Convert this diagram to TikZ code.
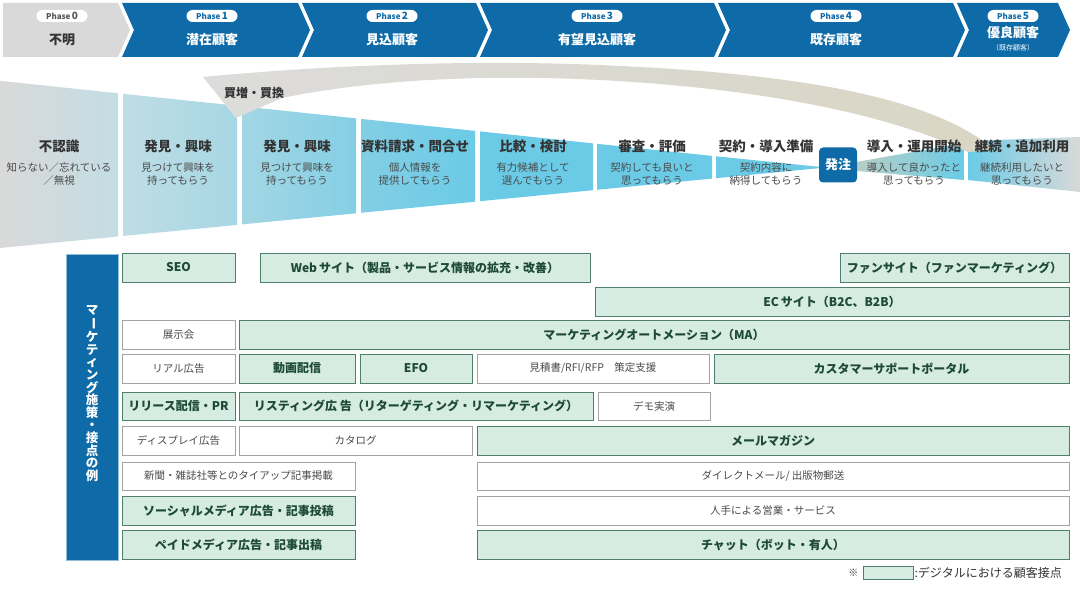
\documentclass[tikz,border=0pt]{standalone}
\usepackage{fontspec}
\setmainfont{Noto Sans CJK JP}
\usetikzlibrary{positioning}

\definecolor{phaseblue}{HTML}{0E6BA8}
\definecolor{phasegray}{HTML}{D9D9D9}
\definecolor{badgegray}{HTML}{555555}
\definecolor{mint}{HTML}{D6EBE1}
\definecolor{mintline}{HTML}{4F7F68}
\definecolor{minttext}{HTML}{1D4A36}
\definecolor{cellline}{HTML}{A3A3A3}
\definecolor{inktext}{HTML}{333333}
\definecolor{subtext}{HTML}{4A4A4A}
\definecolor{funcyan}{HTML}{6BCBE6}
\definecolor{fungray}{HTML}{D9D9D9}
\definecolor{funA}{HTML}{C3DDE4}
\definecolor{funB}{HTML}{BFDDE5}
\definecolor{funC}{HTML}{A6D7E4}
\definecolor{funD}{HTML}{A3D6E4}
\definecolor{funE}{HTML}{84CFE5}
\definecolor{funF}{HTML}{82CEE5}
\definecolor{funG}{HTML}{BFCFC2}
\definecolor{bandgray}{HTML}{DCDCDC}
\definecolor{bandbeige}{HTML}{D9D6C4}

\tikzset{
  digital/.style={draw=mintline, fill=mint, line width=0.9pt, text=minttext,
    font=\fontsize{12}{12}\selectfont\bfseries, inner sep=0pt},
  plain/.style={draw=cellline, fill=white, line width=0.9pt, text=subtext,
    font=\fontsize{10.5}{10.5}\selectfont, inner sep=0pt},
  stagetitle/.style={text=inktext, font=\fontsize{13.5}{14}\selectfont\bfseries, inner sep=0pt},
  stagenote/.style={text=subtext, font=\fontsize{10.5}{13.5}\selectfont, align=center, inner sep=0pt},
  badge/.style={fill=white, rounded corners=6pt, minimum width=51pt, minimum height=12pt,
    inner sep=0pt, text=phaseblue, font=\fontsize{8}{8}\selectfont\bfseries},
  phasename/.style={text=white, font=\fontsize{13}{13}\selectfont\bfseries, inner sep=0pt},
}

% one table cell: style, name, x1, x2, y1, y2, text
\newcommand\cell[7]{%
  \node[#1, minimum width={#4pt-#3pt}, minimum height={#6pt-#5pt}] (#2)
    at ({(#3+#4)/2},{(#5+#6)/2}) {#7};}
\newcommand\phasenum[1]{{\fontsize{10}{10}\selectfont #1}}
\newcommand\vbar{\rotatebox[origin=c]{-90}{ー}}

\begin{document}
\begin{tikzpicture}[x=1pt,y=-1pt]
\useasboundingbox (0,0) rectangle (1080,591);

% phase bar
\fill[phasegray] (3,3) -- (118,3) -- (130,30) -- (118,57) -- (3,57) -- cycle;
\foreach \l/\r in {122/298,302/476,480/714,718/953,957/1058}
  \fill[phaseblue] (\l,3) -- (\r,3) -- (\r+12,30) -- (\r,57) -- (\l,57) -- (\l+12,30) -- cycle;

\node[badge, text=badgegray] (p0) at (62,16) {Phase\,\phasenum{0}};
\node[badge] (p1) at (212,16) {Phase\,\phasenum{1}};
\node[badge] (p2) at (392,16) {Phase\,\phasenum{2}};
\node[badge] (p3) at (597,16) {Phase\,\phasenum{3}};
\node[badge] (p4) at (836,16) {Phase\,\phasenum{4}};
\node[badge] (p5) at (1013,16) {Phase\,\phasenum{5}};
\node[phasename, text=inktext] (p0name) at (62,40) {不明};
\node[phasename] (p1name) at (212,40) {潜在顧客};
\node[phasename] (p2name) at (392,40) {見込顧客};
\node[phasename] (p3name) at (597,40) {有望見込顧客};
\node[phasename] (p4name) at (836,40) {既存顧客};
\node[phasename] (p5name) at (1013,33) {優良顧客};
\node[text=white, font=\fontsize{7}{7}\selectfont, inner sep=0pt] (p5note) at (1013,47.5) {（既存顧客）};

% funnel
\shade[left color=fungray, right color=funA] (0,80.8) -- (118,93.3) -- (118,236.5) -- (0,248) -- cycle;
\shade[left color=funB, right color=funC] (123,93.8) -- (237,105.8) -- (237,224.9) -- (123,236) -- cycle;
\shade[left color=funD, right color=funE] (242,106.3) -- (356,118.4) -- (356,213.3) -- (242,224.4) -- cycle;
\shade[left color=funF, right color=funcyan] (361,118.9) -- (475,130.9) -- (475,201.7) -- (361,212.8) -- cycle;
\fill[funcyan] (480,131.4) -- (593,143.4) -- (593,190.2) -- (480,201.2) -- cycle;
\fill[funcyan] (597,143.8) -- (712,155.9) -- (712,178.6) -- (597,189.8) -- cycle;
\fill[funcyan] (716,156.3) -- (826,167.5) -- (716,178.2) -- cycle;
\shade[left color=funG, right color=funcyan] (845,164) -- (964,143) -- (964,180) -- (845,170) -- cycle;
\shade[left color=funcyan, right color=fungray] (968,141) -- (1080,137) -- (1080,192) -- (968,180) -- cycle;

% repeat purchase band
\shade[left color=bandgray, right color=bandbeige]
  (203,77) .. controls (340,64) and (480,60) .. (600,65)
  .. controls (790,73) and (930,95) .. (995,150) -- (968,152)
  .. controls (905,122) and (790,90) .. (600,80)
  .. controls (480,74) and (370,80) .. (282,98) -- (236,118) -- cycle;
\node[stagetitle, font=\fontsize{12}{12}\selectfont\bfseries] (rebuy) at (254,93) {買増・買換};

\node[fill=phaseblue, rounded corners=4pt, minimum width=38pt, minimum height=35pt, inner sep=0pt,
  text=white, font=\fontsize{13}{13}\selectfont\bfseries] (order) at (838,165) {発注};

% stages
\node[stagetitle] (s1) at (59,146) {不認識};
\node[stagetitle] (s2) at (178,146) {発見・興味};
\node[stagetitle] (s3) at (297,146) {発見・興味};
\node[stagetitle] (s4) at (415,146) {資料請求・問合せ};
\node[stagetitle] (s5) at (533,146) {比較・検討};
\node[stagetitle] (s6) at (652,146) {審査・評価};
\node[stagetitle] (s7) at (766,146) {契約・導入準備};
\node[stagetitle] (s8) at (914,146) {導入・運用開始};
\node[stagetitle] (s9) at (1022,146) {継続・追加利用};
\node[stagenote] (s1note) at (59,174) {知らない／忘れている\\／無視};
\node[stagenote] (s2note) at (178,174) {見つけて興味を\\持ってもらう};
\node[stagenote] (s3note) at (297,174) {見つけて興味を\\持ってもらう};
\node[stagenote] (s4note) at (415,174) {個人情報を\\提供してもらう};
\node[stagenote] (s5note) at (533,174) {有力候補として\\選んでもらう};
\node[stagenote] (s6note) at (652,174) {契約しても良いと\\思ってもらう};
\node[stagenote] (s7note) at (766,174) {契約内容に\\納得してもらう};
\node[stagenote] (s8note) at (914,174) {導入して良かったと\\思ってもらう};
\node[stagenote] (s9note) at (1022,174) {継続利用したいと\\思ってもらう};

% tactics
\node[fill=phaseblue, draw=phaseblue!45, line width=0.8pt, minimum width=52pt, minimum height=306pt,
  inner sep=0pt] (tactics) at (92,407) {};
\node[text=white, align=center, inner sep=0pt, font=\fontsize{12.5}{12.6}\selectfont\bfseries] (tacticslabel) at (92,393.5)
  {マ\\\vbar\\ケ\\テ\\ィ\\ン\\グ\\施\\策\\・\\接\\点\\の\\例};

\cell{digital}{seo}{122}{235}{253}{282}{SEO}
\cell{digital}{web}{260}{590}{253}{282}{Web\,サイト（製品・サービス情報の拡充・改善）}
\cell{digital}{fan}{840}{1069}{253}{282}{ファンサイト（ファンマーケティング）}
\cell{digital}{ec}{595}{1069}{287}{316}{EC\,サイト（B2C、B2B）}
\cell{plain}{expo}{122}{235}{320}{349}{展示会}
\cell{digital}{ma}{239}{1069}{320}{349}{マーケティングオートメーション（MA）}
\cell{plain}{realad}{122}{235}{354}{383}{リアル広告}
\cell{digital}{video}{239}{355}{354}{383}{動画配信}
\cell{digital}{efo}{360}{472}{354}{383}{EFO}
\cell{plain}{rfp}{477}{709}{354}{383}{見積書/RFI/RFP\quad 策定支援}
\cell{digital}{portal}{714}{1069}{354}{383}{カスタマーサポートポータル}
\cell{digital}{pr}{122}{235}{392}{420}{リリース配信・PR}
\cell{digital}{listing}{239}{593}{392}{420}{リスティング広 告（リターゲティング・リマーケティング）}
\cell{plain}{demo}{598}{710}{392}{420}{デモ実演}
\cell{plain}{display}{122}{235}{426}{455}{ディスプレイ広告}
\cell{plain}{catalog}{239}{472}{426}{455}{カタログ}
\cell{digital}{mail}{477}{1069}{426}{455}{メールマガジン}
\cell{plain}{tieup}{122}{355}{462}{490}{新聞・雑誌社等とのタイアップ記事掲載}
\cell{plain}{dm}{477}{1069}{462}{490}{ダイレクトメール/ 出版物郵送}
\cell{digital}{social}{122}{355}{496}{525}{ソーシャルメディア広告・記事投稿}
\cell{plain}{sales}{477}{1069}{496}{525}{人手による営業・サービス}
\cell{digital}{paid}{122}{355}{530}{559}{ペイドメディア広告・記事出稿}
\cell{digital}{chat}{477}{1069}{530}{559}{チャット（ボット・有人）}

% legend
\cell{digital}{legbox}{863}{913}{566}{579}{}
\node[left=4pt of legbox, inner sep=0pt, text=inktext, font=\fontsize{10}{10}\selectfont] (legmark) {※};
\node[right=1pt of legbox, inner sep=0pt, text=inktext, font=\fontsize{12}{12}\selectfont] (legtext) {:デジタルにおける顧客接点};
\end{tikzpicture}
\end{document}
